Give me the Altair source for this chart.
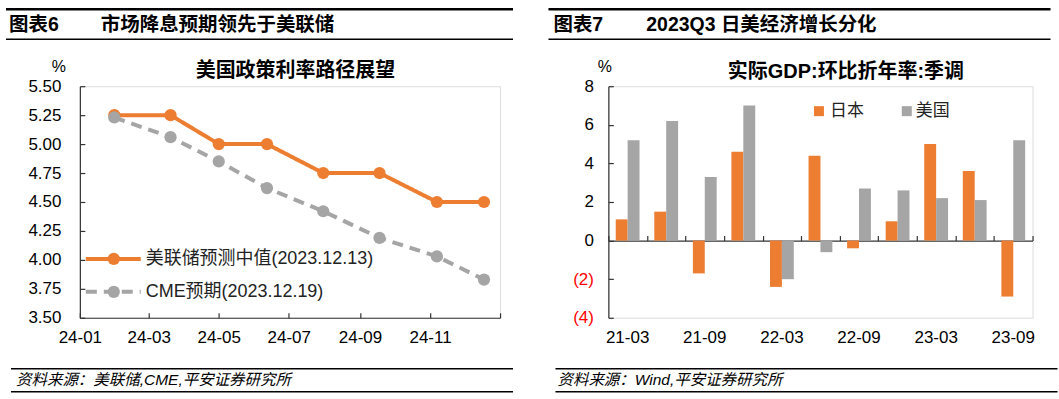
import altair as alt
import pandas as pd

# ---------------- data: left chart ----------------
meeting_dates = ["2024-01-31", "2024-03-20", "2024-05-01", "2024-06-12",
                 "2024-07-31", "2024-09-18", "2024-11-07", "2024-12-18"]
fed_median = [5.25, 5.25, 5.00, 5.00, 4.75, 4.75, 4.50, 4.50]
cme_expect = [5.23, 5.06, 4.85, 4.62, 4.42, 4.19, 4.03, 3.83]
left_series = ["美联储预测中值(2023.12.13)", "CME预期(2023.12.19)"]
left_y_ticks = [3.50, 3.75, 4.00, 4.25, 4.50, 4.75, 5.00, 5.25, 5.50]
left_x_ticks = ["2024-01-01", "2024-03-01", "2024-05-01", "2024-07-01",
                "2024-09-01", "2024-11-01", "2025-01-01"]
left_x_labels = left_x_ticks[:-1]

# ---------------- data: right chart ----------------
quarters = ["21-03", "21-06", "21-09", "21-12", "22-03", "22-06",
            "22-09", "22-12", "23-03", "23-06", "23-09"]
japan = [1.1, 1.5, -1.7, 4.6, -2.4, 4.4, -0.4, 1.0, 5.0, 3.6, -2.9]
usa = [5.2, 6.2, 3.3, 7.0, -2.0, -0.6, 2.7, 2.6, 2.2, 2.1, 5.2]
right_series = ["日本", "美国"]
right_y_ticks = [-4, -2, 0, 2, 4, 6, 8]
right_x_labels = ["21-03", "21-09", "22-03", "22-09", "23-03", "23-09"]

# ---------------- texts ----------------
left_tag, left_head = "图表6", "市场降息预期领先于美联储"
right_tag, right_head = "图表7", "2023Q3 日美经济增长分化"
left_title = "美国政策利率路径展望"
right_title = "实际GDP:环比折年率:季调"
left_source = "资料来源：美联储,CME,平安证券研究所"
right_source = "资料来源：Wind,平安证券研究所"
unit = "%"

ORANGE = "#ED7D31"
GRAY = "#A5A5A5"
AXIS = "#333333"
FONT = "Liberation Sans, Arial, Noto Sans CJK SC"

LW, LH = 421, 232
RW, RH = 425, 232


def dt(s):
    y, m, d = (int(v) for v in s.split("-"))
    return alt.DateTime(year=y, month=m, date=d, utc=True)


df_left = pd.DataFrame({
    "date": meeting_dates * 2,
    "value": fed_median + cme_expect,
    "series": [left_series[0]] * len(meeting_dates) + [left_series[1]] * len(meeting_dates),
})

df_right = pd.DataFrame({
    "quarter": quarters * 2,
    "value": japan + usa,
    "country": [right_series[0]] * len(quarters) + [right_series[1]] * len(quarters),
})

decor = pd.DataFrame({"k": [0]})


def text(t, x, y, size, weight="normal", align="left", color="black", style="normal"):
    return alt.Chart(decor).mark_text(
        text=t, align=align, baseline="middle", fontSize=size, fontWeight=weight,
        color=color, font=FONT, fontStyle=style
    ).encode(x=alt.value(x), y=alt.value(y))


def hrule(x1, x2, y, w, color="black", dash=None):
    kw = dict(strokeWidth=w, color=color)
    if dash is not None:
        kw["strokeDash"] = dash
    return alt.Chart(decor).mark_rule(**kw).encode(
        x=alt.value(x1), x2=alt.value(x2), y=alt.value(y))


# ================= LEFT PANEL =================
xs = alt.Scale(type="utc", domain=[dt("2024-01-01"), dt("2025-01-01")])
ys = alt.Scale(domain=[3.5, 5.5], nice=False, zero=False)
col_l = alt.Scale(domain=left_series, range=[ORANGE, GRAY])
dash_l = alt.Scale(domain=left_series, range=[[1, 0], [11, 7]])

x_lab_axis = alt.Axis(orient="bottom", values=[dt(s) for s in left_x_labels], format="%y-%m",
                      title=None, ticks=False, domain=True, domainColor=AXIS, domainWidth=1.2,
                      labelFontSize=17, labelColor="black", labelPadding=12, labelFont=FONT,
                      labelFlush=False, labelOverlap=False, grid=False)
x_tick_axis = alt.Axis(orient="top", offset=-LH, values=[dt(s) for s in left_x_ticks],
                       title=None, labels=False, domain=False, ticks=True, tickSize=5,
                       tickColor=AXIS, tickWidth=1.2, grid=False)
y_lab_axis = alt.Axis(orient="left", values=left_y_ticks, format=".2f", title=None,
                      ticks=False, domain=True, domainColor=AXIS, domainWidth=1.2,
                      labelFontSize=17, labelColor="black", labelPadding=19, labelFont=FONT,
                      labelFlush=False, labelOverlap=False, grid=False)
y_tick_axis = alt.Axis(orient="right", offset=-LW, values=left_y_ticks, title=None,
                       labels=False, domain=False, ticks=True, tickSize=5,
                       tickColor=AXIS, tickWidth=1.2, grid=False)

lines = alt.Chart(df_left).mark_line(strokeWidth=4).encode(
    x=alt.X("date:T", scale=xs, axis=x_lab_axis),
    y=alt.Y("value:Q", scale=ys, axis=y_lab_axis),
    color=alt.Color("series:N", scale=col_l, legend=None),
    strokeDash=alt.StrokeDash("series:N", scale=dash_l, legend=None),
)
points = alt.Chart(df_left).mark_circle(size=150, opacity=1).encode(
    x=alt.X("date:T", scale=xs, axis=x_tick_axis),
    y=alt.Y("value:Q", scale=ys, axis=y_tick_axis),
    color=alt.Color("series:N", scale=col_l, legend=None),
)

leg_l = [
    hrule(6, 61, 173, 4, ORANGE),
    alt.Chart(decor).mark_circle(size=150, opacity=1, color=ORANGE).encode(
        x=alt.value(34), y=alt.value(173)),
    text(left_series[0], 66, 173, 18, color="#222222"),
    hrule(6, 61, 206, 4, GRAY, [11, 7]),
    alt.Chart(decor).mark_circle(size=150, opacity=1, color=GRAY).encode(
        x=alt.value(34), y=alt.value(206)),
    text(left_series[1], 66, 206, 18, color="#222222"),
]

deco_l = [
    hrule(-74, 434, -77, 2.5),
    hrule(-74, 434, -47, 1.5),
    text(left_tag, -71, -61, 19.5, "bold"),
    text(left_head, 21, -61, 19.5, "bold"),
    text(left_title, 216, -15, 20, "bold", align="center"),
    text(unit, -21, -19, 16, align="center"),
    hrule(-69, 434, 283, 1.5),
    hrule(-69, 434, 306, 1.5),
    text(left_source, -64, 294.5, 15.5, style="italic"),
]

left = alt.layer(lines, points, *leg_l, *deco_l).resolve_axis(
    x="independent", y="independent").properties(width=LW, height=LH)

# ================= RIGHT PANEL =================
xr = alt.Scale(domain=quarters, paddingInner=0, paddingOuter=0)
yr = alt.Scale(domain=[-4, 8], nice=False)
col_r = alt.Scale(domain=right_series, range=[ORANGE, GRAY])

xr_lab_axis = alt.Axis(orient="bottom", values=right_x_labels, title=None, ticks=False,
                       domain=False, labelFontSize=17, labelColor="black", labelPadding=12,
                       labelAngle=0, labelFont=FONT, labelOverlap=False, grid=False)
xr_tick_axis = alt.Axis(orient="top", offset=-RH * 8 / 12, title=None, labels=False,
                        domain=True, domainColor=AXIS, domainWidth=1.2, ticks=True,
                        tickBand="extent", tickSize=5, tickColor=AXIS, tickWidth=1.2, grid=False)
yr_lab_axis = alt.Axis(orient="left", values=right_y_ticks, title=None, ticks=False,
                       domain=True, domainColor=AXIS, domainWidth=1.2,
                       labelExpr="datum.value < 0 ? '(' + abs(datum.value) + ')' : datum.value + '\u2008'",
                       labelColor={"condition": {"test": "datum.value < 0", "value": "#FF0000"},
                                   "value": "black"},
                       labelFontSize=17, labelPadding=15, labelFont=FONT,
                       labelFlush=False, labelOverlap=False, grid=False)
yr_tick_axis = alt.Axis(orient="right", offset=-RW, values=right_y_ticks, title=None,
                        labels=False, domain=False, ticks=True, tickSize=5,
                        tickColor=AXIS, tickWidth=1.2, grid=False)

bars = alt.Chart(df_right).mark_bar().encode(
    x=alt.X("quarter:N", sort=quarters, scale=xr, axis=xr_lab_axis),
    xOffset=alt.XOffset("country:N", sort=right_series,
                        scale=alt.Scale(domain=right_series, paddingInner=0, paddingOuter=0.62)),
    y=alt.Y("value:Q", stack=None, scale=yr, axis=yr_lab_axis),
    color=alt.Color("country:N", scale=col_r, legend=None),
)
ghost = alt.Chart(df_right).mark_bar(opacity=0).encode(
    x=alt.X("quarter:N", sort=quarters, scale=xr, axis=xr_tick_axis),
    y=alt.Y("value:Q", stack=None, scale=yr, axis=yr_tick_axis),
)

leg_r = [
    alt.Chart(decor).mark_square(size=100, opacity=1, color=ORANGE).encode(
        x=alt.value(211), y=alt.value(25)),
    text(right_series[0], 222, 25, 17, color="#222222"),
    alt.Chart(decor).mark_square(size=100, opacity=1, color=GRAY).encode(
        x=alt.value(299), y=alt.value(25)),
    text(right_series[1], 308, 25, 17, color="#222222"),
]

deco_r = [
    hrule(-60, 443, -77, 2.5),
    hrule(-60, 443, -47, 1.5),
    text(right_tag, -55, -61, 19.5, "bold"),
    text(right_head, 38, -61, 19.5, "bold"),
    text(right_title, 238, -14, 20, "bold", align="center"),
    text(unit, -3.5, -19, 16, align="center"),
    hrule(-53, 450, 283, 1.5),
    hrule(-53, 450, 306, 1.5),
    text(right_source, -51, 294.5, 15.5, style="italic"),
]

right = alt.layer(bars, ghost, *leg_r, *deco_r).resolve_axis(
    x="independent", y="independent").properties(width=RW, height=RH)

chart = alt.hconcat(left, right, spacing=31.5).properties(
    padding={"left": 4, "top": 7, "right": 0, "bottom": 0}
).configure_view(stroke=None).configure(font=FONT)

chart.save("out.html", embed_options={"renderer": "svg", "actions": False})
